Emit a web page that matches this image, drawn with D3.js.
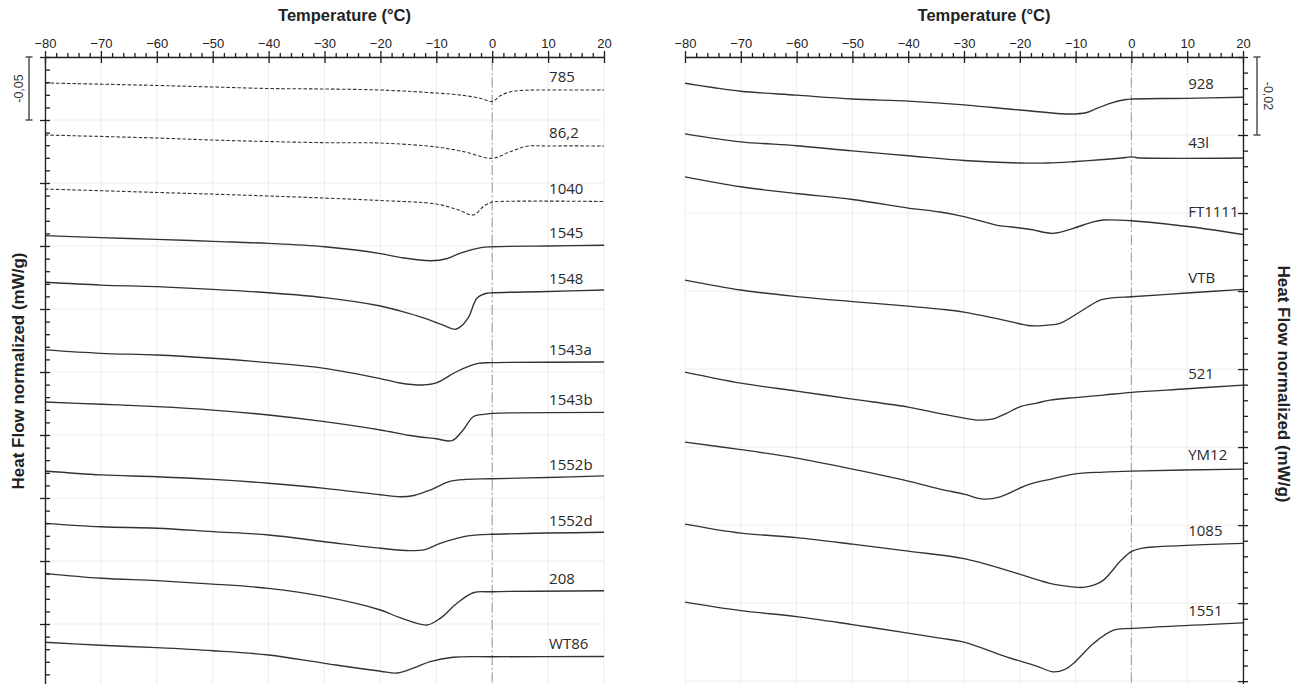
<!DOCTYPE html>
<html>
<head>
<meta charset="utf-8">
<script src="https://cdn.jsdelivr.net/npm/d3@7"></script>
<style>
  body { margin: 0; background: #fff; }
  text { font-family: "Liberation Sans", Arial, sans-serif; }
  text.sample { font-family: "Open Sans", sans-serif; }
</style>
</head>
<body>
<svg id="chart" width="1305" height="684"></svg>
<script>
// temperature axis (degC)
var tempTicks = [-80, -70, -60, -50, -40, -30, -20, -10, 0, 10, 20];

// left panel: heat flow (mW/g), curves stacked with offsets, [T, HF]
var s785  = [[-80,-0.0206],[-60,-0.0226],[-50,-0.0238],[-40,-0.0250],[-30,-0.0254],[-20,-0.0262],[-10,-0.0286],[-5,-0.0306],[-2,-0.0329],[0,-0.0353],[1.5,-0.0306],[3.5,-0.0274],[6,-0.0264],[10,-0.0262],[20,-0.0262]];
var s862  = [[-80,-0.0619],[-60,-0.0643],[-50,-0.0659],[-40,-0.0671],[-30,-0.0680],[-20,-0.0683],[-10,-0.0714],[-5,-0.0752],[0,-0.0804],[3.2,-0.0752],[6.2,-0.0708],[10,-0.0706],[20,-0.0706]];
var s1040 = [[-80,-0.1048],[-60,-0.1075],[-40,-0.1103],[-20,-0.1139],[-10,-0.1167],[-6,-0.1214],[-3.4,-0.1254],[-1.5,-0.1183],[-0.5,-0.1159],[0,-0.1151],[20,-0.1147]];
var s1545 = [[-80,-0.1418],[-70,-0.1434],[-60,-0.1447],[-50,-0.1463],[-40,-0.1479],[-30,-0.1506],[-20,-0.1560],[-16.5,-0.1590],[-11,-0.1617],[-8,-0.1599],[-5.7,-0.1556],[-2,-0.1513],[0,-0.1506],[10,-0.1500],[20,-0.1494]];
var s1548 = [[-80,-0.1788],[-70,-0.1810],[-60,-0.1823],[-50,-0.1844],[-40,-0.1871],[-30,-0.1910],[-20,-0.1976],[-16.5,-0.2015],[-12,-0.2075],[-9,-0.2124],[-6.5,-0.2161],[-5.3,-0.2127],[-4.2,-0.2063],[-2.7,-0.1913],[-1,-0.1875],[0,-0.1871],[10,-0.1861],[20,-0.1849]];
var s1543a = [[-80,-0.2325],[-70,-0.2352],[-60,-0.2365],[-50,-0.2391],[-40,-0.2426],[-30,-0.2471],[-20,-0.2552],[-16.5,-0.2587],[-12.4,-0.2603],[-10,-0.2587],[-6.4,-0.2498],[-4,-0.2452],[-2.5,-0.2431],[0,-0.2426],[20,-0.2421]];
var s1543b = [[-80,-0.2738],[-70,-0.2756],[-60,-0.2775],[-50,-0.2802],[-40,-0.2841],[-30,-0.2894],[-20,-0.2960],[-15,-0.3002],[-10,-0.3030],[-7.2,-0.3045],[-5.2,-0.2960],[-3.4,-0.2855],[-1.6,-0.2836],[0,-0.2828],[20,-0.2820]];
var s1552b = [[-80,-0.3286],[-70,-0.3317],[-60,-0.3331],[-50,-0.3352],[-40,-0.3383],[-30,-0.3423],[-20,-0.3474],[-16.5,-0.3490],[-14,-0.3480],[-11.1,-0.3437],[-7.6,-0.3368],[-4.6,-0.3352],[0,-0.3347],[10,-0.3337],[20,-0.3325]];
var s1552d = [[-80,-0.3701],[-70,-0.3728],[-60,-0.3740],[-50,-0.3767],[-40,-0.3794],[-30,-0.3847],[-20,-0.3899],[-14.7,-0.3918],[-12,-0.3909],[-9.3,-0.3860],[-6,-0.3817],[-4,-0.3799],[0,-0.3788],[20,-0.3772]];
var s208  = [[-80,-0.4098],[-70,-0.4137],[-60,-0.4156],[-50,-0.4183],[-40,-0.4217],[-30,-0.4283],[-20,-0.4389],[-16.5,-0.4450],[-11.7,-0.4508],[-9.3,-0.4455],[-6.3,-0.4336],[-3.4,-0.4252],[0,-0.4244],[20,-0.4236]];
var sWT86 = [[-80,-0.4645],[-70,-0.4669],[-60,-0.4688],[-50,-0.4712],[-40,-0.4746],[-30,-0.4812],[-20,-0.4875],[-17,-0.4889],[-14,-0.4849],[-11.1,-0.4799],[-7,-0.4764],[0,-0.4760],[20,-0.4758]];

// right panel
var s928  = [[-80,-0.00674],[-75,-0.00782],[-70,-0.00877],[-60,-0.00979],[-50,-0.01077],[-40,-0.01133],[-30,-0.01226],[-20,-0.01359],[-11,-0.01462],[-8,-0.01423],[-6.9,-0.01359],[-3.8,-0.01187],[-1,-0.01090],[0,-0.01077],[10,-0.01059],[20,-0.01033]];
var s43l  = [[-80,-0.01969],[-70,-0.02174],[-60,-0.02274],[-50,-0.02408],[-40,-0.02531],[-30,-0.02654],[-20,-0.02718],[-15,-0.02718],[-10,-0.02679],[-5,-0.02628],[-1,-0.02577],[0,-0.02560],[1,-0.02582],[20,-0.02590]];
var sFT1111 = [[-80,-0.03072],[-70,-0.03326],[-60,-0.03500],[-50,-0.03654],[-40,-0.03872],[-34.3,-0.03974],[-30,-0.04090],[-23.5,-0.04328],[-21.8,-0.04351],[-18,-0.04423],[-14,-0.04521],[-10.4,-0.04392],[-7,-0.04231],[-5,-0.04179],[0,-0.04197],[10.5,-0.04351],[20,-0.04551]];
var sVTB  = [[-80,-0.05718],[-70,-0.05974],[-60,-0.06141],[-50,-0.06269],[-40,-0.06385],[-34.3,-0.06462],[-30,-0.06538],[-23.5,-0.06726],[-18,-0.06890],[-15,-0.06872],[-12.8,-0.06828],[-9.2,-0.06531],[-5.6,-0.06231],[-3,-0.06167],[0,-0.06146],[10,-0.06051],[20,-0.05956]];
var s521  = [[-80,-0.08077],[-70,-0.08359],[-60,-0.08564],[-50,-0.08769],[-40,-0.08974],[-34.3,-0.09141],[-30,-0.09256],[-27.7,-0.09308],[-25,-0.09282],[-23.9,-0.09231],[-22.4,-0.09136],[-20,-0.08967],[-17,-0.08872],[-14.6,-0.08795],[-10,-0.08731],[-5,-0.08667],[0,-0.08597],[10,-0.08505],[20,-0.08410]];
var sYM12 = [[-80,-0.09872],[-70,-0.10064],[-60,-0.10282],[-50,-0.10564],[-40,-0.10872],[-34.3,-0.11077],[-30,-0.11205],[-26.5,-0.11333],[-23.5,-0.11274],[-18.7,-0.10974],[-14,-0.10808],[-10.4,-0.10692],[-5,-0.10641],[0,-0.10615],[20,-0.10564]];
var s1085 = [[-80,-0.11974],[-70,-0.12205],[-60,-0.12321],[-50,-0.12487],[-40,-0.12667],[-30,-0.12859],[-22.4,-0.13154],[-14.6,-0.13495],[-11,-0.13577],[-8.6,-0.13597],[-6.5,-0.13526],[-5,-0.13410],[-1.8,-0.12897],[0,-0.12679],[2,-0.12590],[4.5,-0.12556],[20,-0.12469]];
var s1551 = [[-80,-0.13974],[-70,-0.14192],[-60,-0.14346],[-50,-0.14551],[-40,-0.14769],[-34.3,-0.14897],[-30,-0.15000],[-22.4,-0.15377],[-17,-0.15615],[-14,-0.15762],[-12,-0.15705],[-10.4,-0.15546],[-6.8,-0.15033],[-3.2,-0.14692],[0,-0.14649],[20,-0.14505]];

var leftNames  = ["785", "86,2", "1040", "1545", "1548", "1543a", "1543b", "1552b", "1552d", "208", "WT86"];
var leftValues = [s785, s862, s1040, s1545, s1548, s1543a, s1543b, s1552b, s1552d, s208, sWT86];
var leftDashed = ["785", "86,2", "1040"];
var rightNames  = ["928", "43l", "FT1111", "VTB", "521", "YM12", "1085", "1551"];
var rightValues = [s928, s43l, sFT1111, sVTB, s521, sYM12, s1085, s1551];

var svg = d3.select("#chart");
var axisTopY = 57;
var bottomY = 687;
var ink = "#1e1e1e";

function valueAt(values, t) {
  var i = d3.bisector(function(d){ return d[0]; }).left(values, t);
  if (i <= 0) return values[0][1];
  if (i >= values.length) return values[values.length - 1][1];
  var a = values[i - 1], b = values[i];
  return a[1] + (b[1] - a[1]) * (t - a[0]) / (b[0] - a[0]);
}

function drawPanel(p) {
  var x = d3.scaleLinear().domain([-80, 20]).range([p.x0, p.x1]);
  var y = d3.scaleLinear().domain(p.yDomain).range([axisTopY, bottomY]);
  var g = svg.append("g");

  var majors = d3.range(0, Math.round(-p.yDomain[1] / p.majorStep) + 1).map(function(i){ return -i * p.majorStep; });
  var minors = d3.range(0, Math.round(-p.yDomain[1] / p.minorStep) + 1)
    .filter(function(i){ return i % 5 !== 0; })
    .map(function(i){ return -i * p.minorStep; });
  var minorTemps = d3.range(-80, 21, 2).filter(function(t){ return t % 10 !== 0; });

  // grid
  g.append("g").selectAll("line").data(tempTicks).enter().append("line")
    .attr("x1", function(d){ return x(d); }).attr("x2", function(d){ return x(d); })
    .attr("y1", axisTopY).attr("y2", bottomY)
    .attr("stroke", "#ececec").attr("stroke-width", 1);
  g.append("g").selectAll("line").data(majors).enter().append("line")
    .attr("x1", p.x0).attr("x2", p.x1)
    .attr("y1", function(d){ return y(d); }).attr("y2", function(d){ return y(d); })
    .attr("stroke", "#ececec").attr("stroke-width", 1);

  // 0 degC dash-dot line
  g.append("line")
    .attr("x1", x(0)).attr("x2", x(0)).attr("y1", axisTopY + 3).attr("y2", bottomY)
    .attr("stroke", "#a0a0a0").attr("stroke-width", 1.1)
    .attr("stroke-dasharray", "10,3,1.5,3");

  // curves
  var line = d3.line()
    .x(function(d){ return x(d[0]); })
    .y(function(d){ return y(d[1]); })
    .curve(d3.curveCatmullRom.alpha(0.5));
  p.names.forEach(function(name, i){
    var vals = p.values[i];
    var dashed = p.dashed.indexOf(name) >= 0;
    g.append("path")
      .attr("d", line(vals))
      .attr("fill", "none")
      .attr("stroke", "#333")
      .attr("stroke-width", dashed ? 1.1 : 1.35)
      .attr("stroke-dasharray", dashed ? "3.5,2" : null);
    g.append("text")
      .attr("class", "sample")
      .attr("x", x(10) + 1)
      .attr("y", y(valueAt(vals, 10)) - p.labelGap + 5.3)
      .attr("font-size", "15px")
      .attr("fill", "#2a2a2a")
      .text(name);
  });

  // top temperature axis
  var topAxis = g.append("g").attr("transform", "translate(0," + axisTopY + ")")
    .call(d3.axisTop(x).tickValues(tempTicks).tickSize(6).tickSizeOuter(0).tickPadding(3));
  topAxis.selectAll(".tick line").attr("y1", 6);
  var minorTop = g.append("g").attr("transform", "translate(0," + axisTopY + ")")
    .call(d3.axisTop(x).tickValues(minorTemps).tickSize(4).tickFormat(""));
  minorTop.select(".domain").remove();
  topAxis.selectAll(".tick text")
    .attr("font-size", "13px").attr("fill", "#222");

  // vertical heat-flow axis (no labels)
  var ax = p.side === "left" ? p.x0 : p.x1;
  var majorAxis = p.side === "left" ? d3.axisLeft(y) : d3.axisRight(y);
  var yAx = g.append("g").attr("transform", "translate(" + ax + ",0)")
    .call(majorAxis.tickValues(majors).tickSize(5).tickSizeOuter(0).tickFormat(""));
  yAx.selectAll(".tick line").attr("x1", p.side === "left" ? 5 : -5);
  var yMinor = g.append("g").attr("transform", "translate(" + ax + ",0)")
    .call(d3.axisRight(y).tickValues(minors).tickSize(5).tickFormat(""));
  yMinor.select(".domain").remove();

  g.selectAll(".domain, .tick line").attr("stroke", ink).attr("stroke-width", 1.3);

  // scale bar for one major interval
  var bx = p.side === "left" ? p.x0 - 16 : p.x1 + 14;
  var sb = g.append("g").attr("stroke", "#444").attr("stroke-width", 1.4);
  sb.append("line").attr("x1", bx).attr("x2", bx).attr("y1", y(0)).attr("y2", y(-p.majorStep));
  sb.append("line").attr("x1", bx - 3.5).attr("x2", bx + 3.5).attr("y1", y(0)).attr("y2", y(0));
  sb.append("line").attr("x1", bx - 3.5).attr("x2", bx + 3.5).attr("y1", y(-p.majorStep)).attr("y2", y(-p.majorStep));
  var lx = p.side === "left" ? bx - 10 : bx + 11;
  g.append("text")
    .attr("transform", "translate(" + lx + "," + (y(-p.majorStep / 2)) + ") rotate(" + (p.side === "left" ? -90 : 90) + ")")
    .attr("text-anchor", "middle").attr("dy", "0.35em")
    .attr("font-size", "12.5px").attr("fill", "#333")
    .text(p.scaleLabel);

  // titles
  g.append("text")
    .attr("x", (p.x0 + p.x1) / 2 + 20).attr("y", 21)
    .attr("text-anchor", "middle")
    .attr("font-weight", "bold").attr("font-size", "16.5px").attr("fill", "#222")
    .text("Temperature (°C)");
  g.append("text")
    .attr("transform", "translate(" + p.titleX + "," + p.titleY + ") rotate(" + (p.side === "left" ? -90 : 90) + ")")
    .attr("text-anchor", "middle").attr("dy", "0.35em")
    .attr("font-weight", "bold").attr("font-size", "17px").attr("fill", "#222")
    .text("Heat Flow normalized (mW/g)");
}

drawPanel({
  x0: 45, x1: 604, side: "left",
  yDomain: [0, -0.5], majorStep: 0.05, minorStep: 0.01,
  names: leftNames, values: leftValues, dashed: leftDashed,
  labelGap: 13, scaleLabel: "-0,05", titleX: 18, titleY: 371
});
drawPanel({
  x0: 685, x1: 1243, side: "right",
  yDomain: [0, -0.1615], majorStep: 0.02, minorStep: 0.004,
  names: rightNames, values: rightValues, dashed: [],
  labelGap: 15, scaleLabel: "-0,02", titleX: 1284, titleY: 384
});
</script>
</body>
</html>
